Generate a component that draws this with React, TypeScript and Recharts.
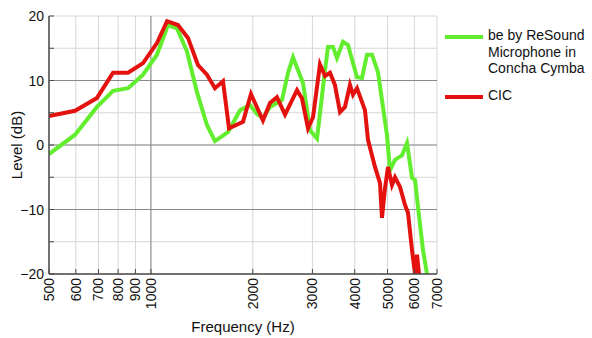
import { CartesianGrid, Legend, Line, LineChart, ReferenceLine, XAxis, YAxis } from 'recharts';

const FONT = '"Liberation Sans", Arial, sans-serif';
const GREEN = '#62ee2e';
const RED = '#e3120f';
const FRAME = '#4a4a4a';

// microphone in concha cymba (green)
const greenFreq = [
  500, 597, 693, 773, 856, 948, 1042, 1123, 1194, 1278, 1368, 1464, 1546, 1689, 1833, 1962, 2058,
  2143, 2248, 2439, 2541, 2629, 2814, 2951, 3095, 3268, 3335, 3450, 3545, 3693, 3821, 4062, 4203,
  4348, 4498, 4686, 4982, 5085, 5261, 5369, 5517, 5708, 5906, 6027, 6152, 6365, 6540,
];
const greenLevel = [
  -1.4, 1.6, 5.9, 8.4, 8.8, 10.9, 14.0, 18.6, 18.1, 14.5, 8.2, 3.1, 0.6, 2.0, 5.4, 6.2, 4.8, 4.2,
  5.9, 7.0, 11.2, 13.6, 9.6, 2.3, 1.0, 11.6, 15.2, 15.2, 13.5, 16.0, 15.5, 10.5, 10.4, 14.0, 14.0,
  11.3, 1.5, -3.9, -2.3, -2.0, -1.6, 0.3, -5.1, -5.4, -9.6, -16.3, -20,
];

// CIC (red)
const redFreq = [
  500, 597, 693, 773, 856, 948, 1042, 1116, 1202, 1287, 1377, 1464, 1546, 1633, 1701, 1871, 1975,
  2143, 2248, 2357, 2490, 2701, 2795, 2911, 3012, 3158, 3268, 3381, 3497, 3619, 3743, 3873, 3953,
  4062, 4289, 4378, 4591, 4750, 4815, 4915, 5016, 5154, 5261, 5443, 5631, 5747, 5906, 6027, 6110,
  6194,
];
const redLevel = [
  4.5, 5.3, 7.3, 11.2, 11.2, 12.7, 15.8, 19.2, 18.6, 16.6, 12.4, 10.9, 8.8, 9.9, 2.6, 3.6, 7.9,
  3.8, 6.5, 7.4, 4.7, 8.5, 7.2, 2.6, 4.3, 12.5, 10.7, 11.2, 9.3, 5.1, 5.9, 9.3, 7.8, 8.8, 5.4, 0.8,
  -3.4, -5.9, -11.3, -6.7, -3.4, -6.2, -5.0, -6.5, -9.3, -10.5, -16.3, -20, -17, -20,
];

const xTicks = [500, 600, 700, 800, 900, 1000, 2000, 3000, 4000, 5000, 6000, 7000];
const yTicks = [-20, -15, -10, -5, 0, 5, 10, 15, 20];
const majorY = [-10, 0, 10];
const legendLines = ['be by ReSound', 'Microphone in', 'Concha Cymba'];
const redLabel = 'CIC';

const greenData = greenFreq.map((f, i) => ({ f, db: greenLevel[i] }));
const redData = redFreq.map((f, i) => ({ f, db: redLevel[i] }));

const BottomTick = ({ x, y, payload }: any) => (
  <g>
    <line x1={x} y1={y} x2={x} y2={y - 5} stroke={FRAME} strokeWidth={1} />
    <text
      x={x}
      y={y + 4}
      transform={`rotate(-90, ${x}, ${y + 4})`}
      textAnchor="end"
      dominantBaseline="central"
      fontFamily={FONT}
      fontSize={14}
      fill="#111"
    >
      {payload.value}
    </text>
  </g>
);

const LeftTick = ({ x, y, payload }: any) => (
  <g>
    <line x1={x} y1={y} x2={x + 5} y2={y} stroke={FRAME} strokeWidth={1} />
    {payload.value % 10 === 0 && (
      <text
        x={x - 5}
        y={y}
        textAnchor="end"
        dominantBaseline="central"
        fontFamily={FONT}
        fontSize={14}
        fill="#111"
      >
        {payload.value < 0 ? `\u2212${-payload.value}` : payload.value}
      </text>
    )}
  </g>
);

const TopTick = ({ x, y }: any) => (
  <line x1={x} y1={y} x2={x} y2={y + 5} stroke={FRAME} strokeWidth={1} />
);

const RightTick = ({ x, y }: any) => (
  <line x1={x} y1={y} x2={x - 5} y2={y} stroke={FRAME} strokeWidth={1} />
);

const LegendBox = () => (
  <div
    style={{
      position: 'relative',
      width: 150,
      height: 90,
      fontFamily: FONT,
      fontSize: 14,
      lineHeight: '16.5px',
      color: '#111',
      whiteSpace: 'nowrap',
    }}
  >
    <div style={{ position: 'absolute', left: 0, top: 8, width: 38, height: 4, background: GREEN }} />
    <div style={{ position: 'absolute', left: 43, top: 0 }}>
      {legendLines.map((t) => (
        <div key={t}>{t}</div>
      ))}
    </div>
    <div style={{ position: 'absolute', left: 0, top: 68, width: 38, height: 4, background: RED }} />
    <div style={{ position: 'absolute', left: 43, top: 60 }}>{redLabel}</div>
  </div>
);

export default function App() {
  return (
    <div
      style={{
        position: 'absolute',
        left: 0,
        top: 0,
        width: 592,
        height: 338,
        overflow: 'hidden',
        background: '#fff',
      }}
    >
      <LineChart width={592} height={338} margin={{ top: 16, right: 155, left: 0, bottom: 0 }}>
        <CartesianGrid stroke="#d6d6d6" strokeWidth={1} />
        {majorY.map((v) => (
          <ReferenceLine key={v} y={v} stroke="#8a8a8a" strokeWidth={1} />
        ))}
        <ReferenceLine x={1000} stroke="#8a8a8a" strokeWidth={1} />
        <XAxis
          dataKey="f"
          type="number"
          scale="log"
          domain={[500, 7000]}
          allowDataOverflow
          ticks={xTicks}
          interval={0}
          height={64}
          tickSize={0}
          tickMargin={0}
          tickLine={false}
          axisLine={{ stroke: FRAME, strokeWidth: 1.5 }}
          tick={<BottomTick />}
          label={{
            content: ({ viewBox }: any) => (
              <text
                x={viewBox.x + viewBox.width / 2}
                y={viewBox.y + 58}
                textAnchor="middle"
                fontFamily={FONT}
                fontSize={15}
                fill="#111"
              >
                Frequency (Hz)
              </text>
            ),
          }}
        />
        <XAxis
          xAxisId="top"
          orientation="top"
          dataKey="f"
          type="number"
          scale="log"
          domain={[500, 7000]}
          allowDataOverflow
          ticks={xTicks}
          interval={0}
          height={0}
          tickSize={0}
          tickMargin={0}
          tickLine={false}
          axisLine={{ stroke: FRAME, strokeWidth: 1.5 }}
          tick={<TopTick />}
        />
        <YAxis
          type="number"
          domain={[-20, 20]}
          allowDataOverflow
          ticks={yTicks}
          interval={0}
          width={49}
          tickSize={0}
          tickMargin={0}
          tickLine={false}
          axisLine={{ stroke: FRAME, strokeWidth: 1.5 }}
          tick={<LeftTick />}
          label={{
            content: ({ viewBox }: any) => {
              const cx = viewBox.x + 16;
              const cy = viewBox.y + viewBox.height / 2;
              return (
                <text
                  x={cx}
                  y={cy}
                  transform={`rotate(-90, ${cx}, ${cy})`}
                  textAnchor="middle"
                  dominantBaseline="central"
                  fontFamily={FONT}
                  fontSize={15}
                  fill="#111"
                >
                  Level (dB)
                </text>
              );
            },
          }}
        />
        <YAxis
          yAxisId="right"
          orientation="right"
          type="number"
          domain={[-20, 20]}
          allowDataOverflow
          ticks={yTicks}
          interval={0}
          width={0}
          tickSize={0}
          tickMargin={0}
          tickLine={false}
          axisLine={{ stroke: FRAME, strokeWidth: 1.5 }}
          tick={<RightTick />}
        />
        <Legend
          layout="vertical"
          align="center"
          verticalAlign="middle"
          wrapperStyle={{ left: 445, top: 27, width: 150, height: 90 }}
          content={() => <LegendBox />}
        />
        <Line
          data={greenData}
          dataKey="db"
          type="linear"
          stroke={GREEN}
          strokeWidth={4}
          dot={false}
          isAnimationActive={false}
        />
        <Line
          data={redData}
          dataKey="db"
          type="linear"
          stroke={RED}
          strokeWidth={4}
          dot={false}
          isAnimationActive={false}
        />
      </LineChart>
    </div>
  );
}
